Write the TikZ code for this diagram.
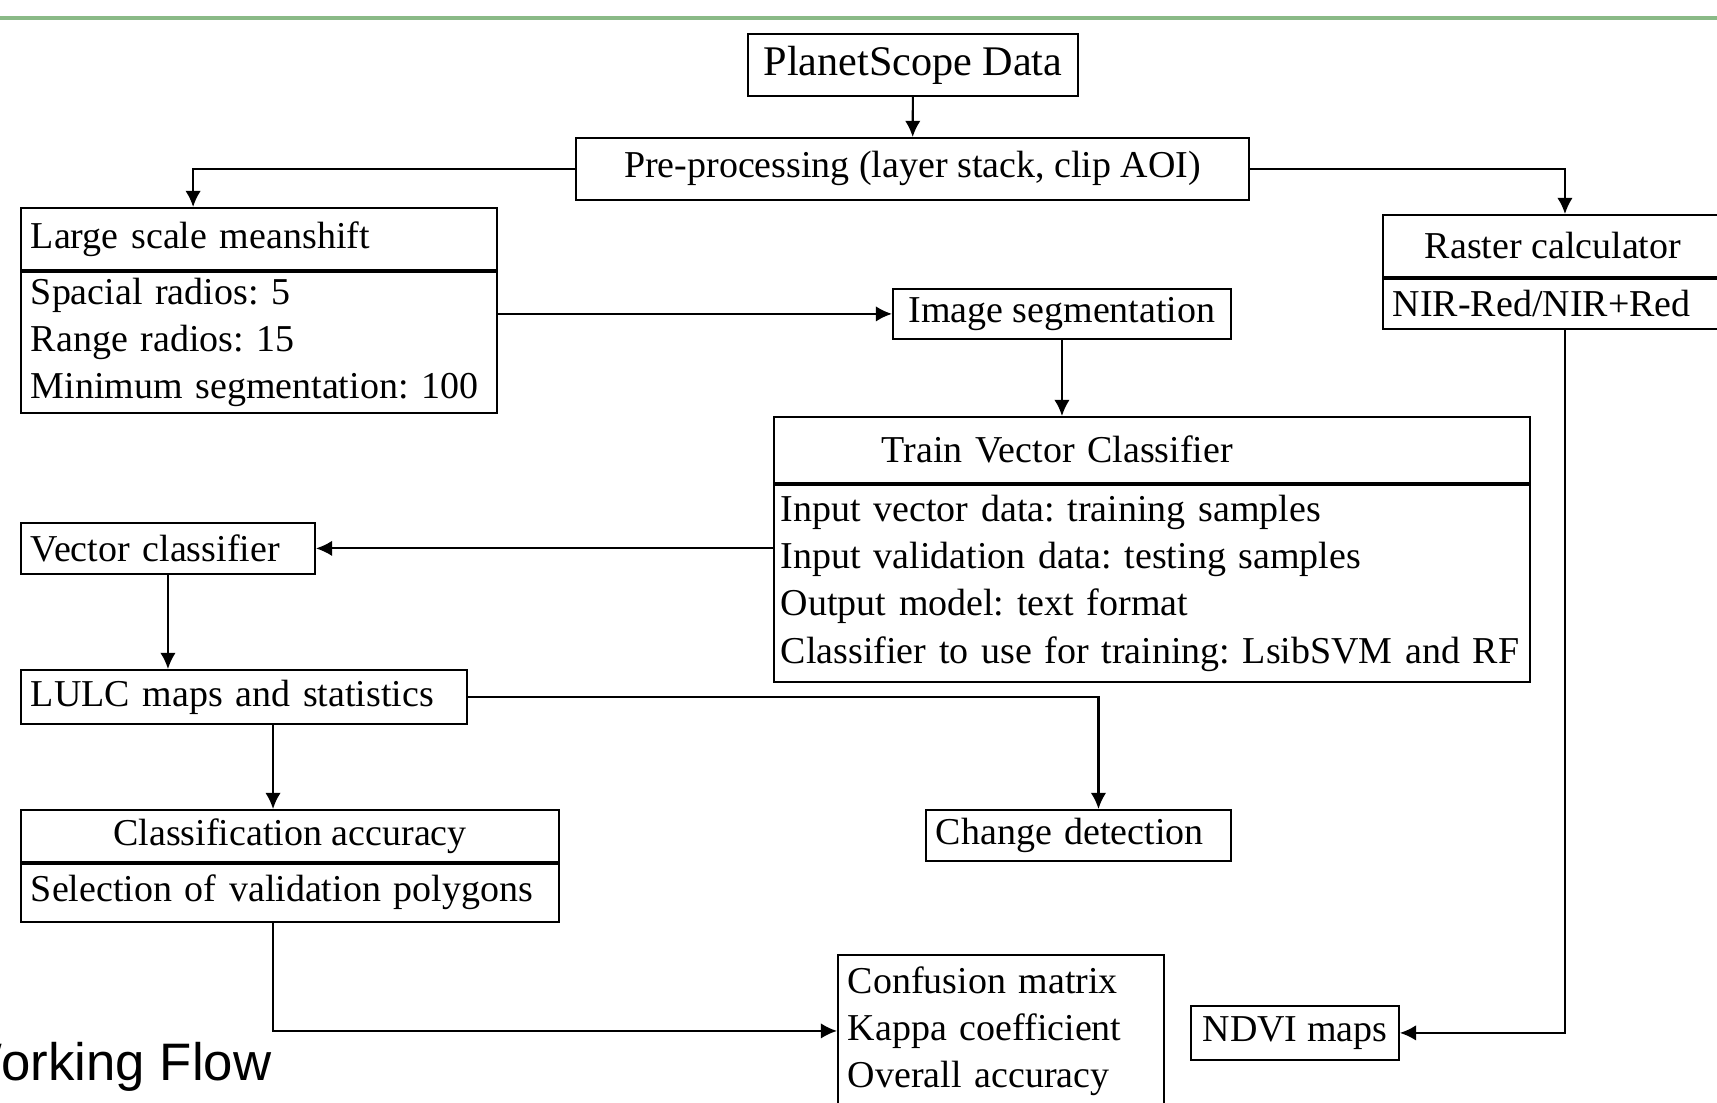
\documentclass[tikz,border=0pt]{standalone}
\usepackage{fontspec}
\setmainfont{Liberation Serif}
\newfontfamily\captionfont{Liberation Sans}
\usepackage{tikz}
\usetikzlibrary{shapes,arrows.meta}
\frenchspacing
\definecolor{rulegreen}{RGB}{138,186,135}
\tikzstyle{block} = [rectangle, draw, line width=0.5pt, anchor=north west,
    inner xsep=0.1cm, inner ysep=0pt, align=left]
\tikzstyle{cblock} = [rectangle, draw, line width=0.5pt, anchor=north west,
    inner sep=0pt, align=center]
\tikzstyle{line} = [draw, line width=0.6pt, -{Latex[length=4.6pt,width=4.4pt]}]
\tikzstyle{divider} = [draw, line width=1.3pt]

\begin{document}
\begin{tikzpicture}[x=0.01cm, y=-0.01cm,
    every node/.style={font=\fontsize{10.8}{13.4}\selectfont}]
    \useasboundingbox (0,0) rectangle (1717,1102);
    \clip (0,0) rectangle (1717,1102);
    \draw [rulegreen, line width=1.4pt] (0,18) -- (1717,18);
    % Place nodes
    \node [cblock, minimum width=3.30cm, minimum height=0.62cm,
        font=\fontsize{12}{14}\selectfont] (data) at (747,33) {PlanetScope Data};
    \node [cblock, minimum width=6.73cm, minimum height=0.62cm] (prep) at (575,137)
        {Pre-processing (layer stack, clip AOI)};
    \node [block, text width=4.56cm, minimum height=0.62cm] (msT) at (20,207)
        {Large scale meanshift};
    \node [block, text width=4.56cm, minimum height=1.41cm] (msB) at (msT.south west)
        {Spacial radios: 5\\Range radios: 15\\Minimum segmentation: 100};
    \node [cblock, minimum width=3.40cm, minimum height=0.62cm] (rcT) at (1382,214)
        {Raster calculator};
    \node [block, text width=3.20cm, minimum height=0.50cm] (rcB) at (rcT.south west)
        {NIR-Red/NIR+Red};
    \node [cblock, minimum width=3.38cm, minimum height=0.50cm] (seg) at (892,288)
        {Image segmentation};
    \node [block, text width=7.36cm, minimum height=0.66cm] (tvT) at (773,416)
        {\hspace*{0.98cm}Train Vector Classifier};
    \node [block, inner xsep=0.07cm, text width=7.42cm, minimum height=1.97cm] (tvB) at (tvT.south west)
        {Input vector data: training samples\\Input validation data: testing samples\\
         Output model: text format\\Classifier to use for training: LsibSVM and RF};
    \node [block, text width=2.74cm, minimum height=0.51cm] (vc) at (20,522)
        {Vector classifier};
    \node [block, text width=4.26cm, minimum height=0.54cm] (lulc) at (20,669)
        {LULC maps and statistics};
    \node [cblock, minimum width=5.38cm, minimum height=0.52cm] (caT) at (20,809)
        {Classification accuracy};
    \node [block, text width=5.18cm, minimum height=0.58cm] (caB) at (caT.south west)
        {Selection of validation polygons};
    \node [block, text width=2.85cm, minimum height=0.51cm] (cd) at (925,809)
        {Change detection};
    \node [block, text width=3.06cm, minimum height=1.52cm] (conf) at (837,954)
        {Confusion matrix\\Kappa coefficient\\Overall accuracy};
    \node [cblock, minimum width=2.08cm, minimum height=0.54cm] (ndvi) at (1190,1005)
        {NDVI maps};
    \node [anchor=base west, inner sep=0pt,
        font=\captionfont\fontsize{15}{18}\selectfont] (caption) at (-48,1080) {Working Flow};
    % Dividers
    \path [divider] (msT.south west) -- (msT.south east);
    \path [divider] (rcT.south west) -- (rcT.south east);
    \path [divider] (tvT.south west) -- (tvT.south east);
    \path [divider] (caT.south west) -- (caT.south east);
    % Draw edges
    \path [line] (data) -- (prep);
    \path [line] (prep.west) -| ([xshift=1.73cm]msT.north west);
    \path [line] (prep.east) -| ([xshift=0.12cm]rcT.north);
    \path [line] (seg.west -| msB.east) -- (seg.west);
    \path [line] (seg.south) -- (seg.south |- tvT.north);
    \path [line] (tvB.west |- vc.east) -- (vc.east);
    \path [line] (vc.south) -- (vc.south |- lulc.north);
    \path [line] (lulc.east) -| ([xshift=0.2cm]cd.north);
    \path [line] ([xshift=0.29cm]lulc.south) -- ([xshift=0.29cm]lulc.south |- caT.north);
    \path [line] ([xshift=-0.17cm]caB.south) |- (conf.west);
    \path [line] ([xshift=0.12cm]rcB.south) |- (ndvi.east);
\end{tikzpicture}
\end{document}
